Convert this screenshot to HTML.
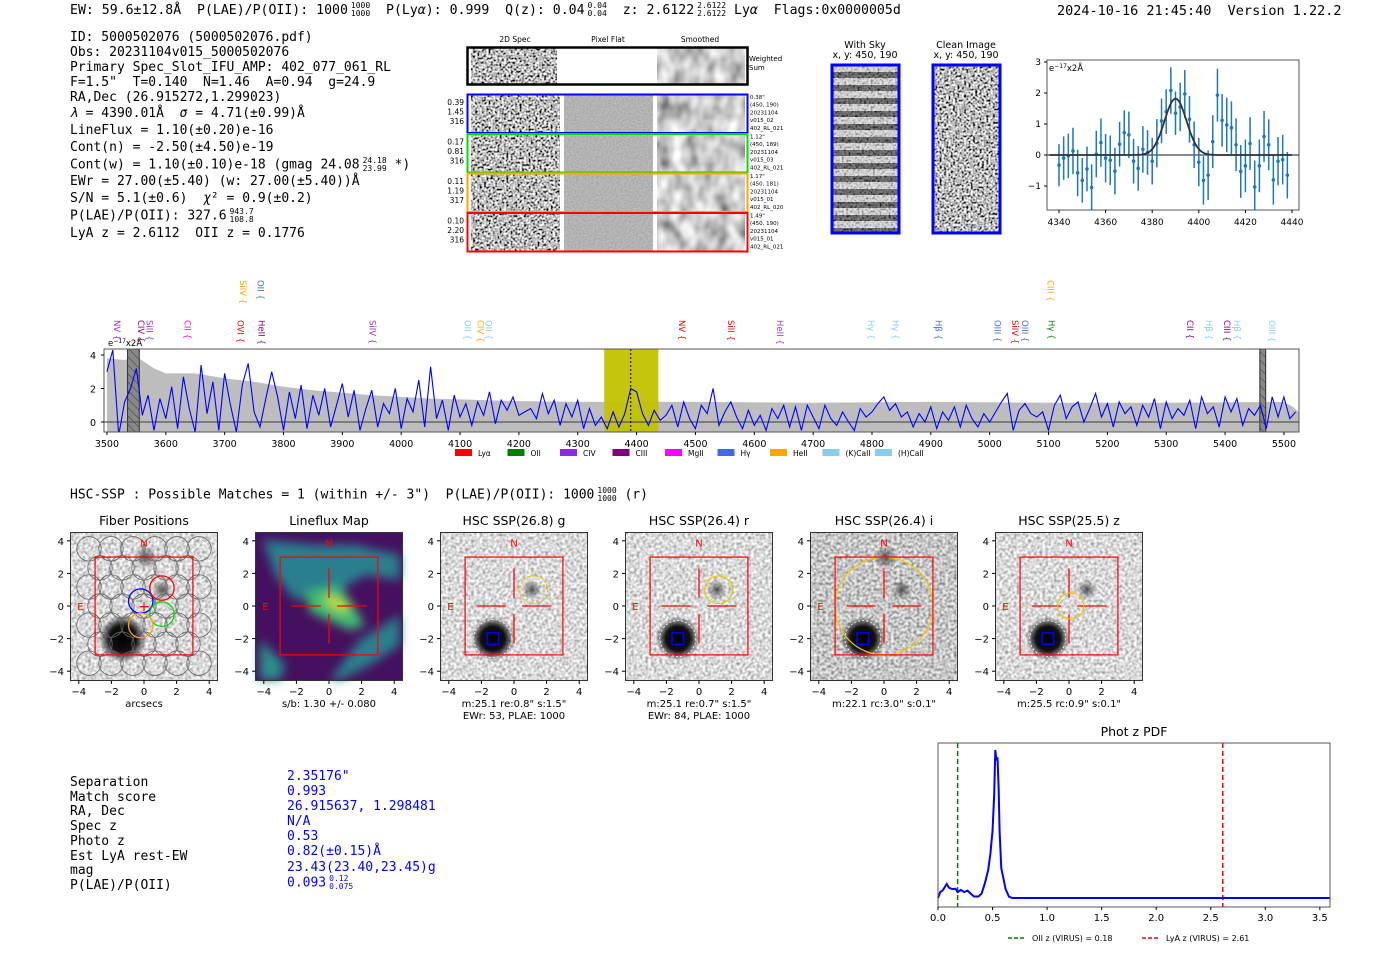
<!DOCTYPE html>
<html><head><meta charset="utf-8">
<style>
html,body{margin:0;padding:0;background:#fff;}
#root{position:relative;width:1400px;height:953px;overflow:hidden;background:#fff;}
.t{position:absolute;white-space:pre;font-family:"DejaVu Sans Mono","Liberation Mono",monospace;font-size:13px;color:#000;line-height:15px;}
.s{font-family:"DejaVu Sans","Liberation Sans",sans-serif;}
.fr{display:inline-flex;flex-direction:column;font-size:8px;line-height:8px;vertical-align:middle;margin-left:3px;}
svg text{font-family:"DejaVu Sans","Liberation Sans",sans-serif;}
</style></head><body>
<div id="root">
<svg id="g" width="1400" height="953" style="position:absolute;left:0;top:0">
<defs>
<filter id="nz" x="0" y="0" width="100%" height="100%"><feTurbulence type="fractalNoise" baseFrequency="0.45" numOctaves="1" seed="4"/><feColorMatrix type="matrix" values="2.6 0 0 0 -0.8  2.6 0 0 0 -0.8  2.6 0 0 0 -0.8  0 0 0 0 1"/></filter>
<filter id="sm" x="0" y="0" width="100%" height="100%"><feTurbulence type="fractalNoise" baseFrequency="0.07 0.05" numOctaves="2" seed="7"/><feColorMatrix type="matrix" values="1.3 0 0 0 -0.05  1.3 0 0 0 -0.05  1.3 0 0 0 -0.05  0 0 0 0 1"/></filter>
<filter id="fl" x="0" y="0" width="100%" height="100%"><feTurbulence type="fractalNoise" baseFrequency="0.6" numOctaves="1" seed="2"/><feColorMatrix type="matrix" values="0.3 0 0 0 0.3  0.3 0 0 0 0.3  0.3 0 0 0 0.3  0 0 0 0 1"/></filter>
<filter id="cb" x="0" y="0" width="100%" height="100%"><feTurbulence type="fractalNoise" baseFrequency="0.35" numOctaves="1" seed="9"/><feColorMatrix type="matrix" values="1.3 0 0 0 0.05  1.3 0 0 0 0.05  1.3 0 0 0 0.05  0 0 0 0 1"/></filter>
<filter id="cbd" x="0" y="0" width="100%" height="100%"><feTurbulence type="fractalNoise" baseFrequency="0.35" numOctaves="1" seed="11"/><feColorMatrix type="matrix" values="1.3 0 0 0 -0.08  1.3 0 0 0 -0.08  1.3 0 0 0 -0.08  0 0 0 0 1"/></filter>
<filter id="bl"><feGaussianBlur stdDeviation="5"/></filter>
<pattern id="stripes" width="68" height="13" patternUnits="userSpaceOnUse"><rect width="68" height="13" fill="#d8d8d8"/><rect y="7" width="68" height="6" fill="#3a3a3a"/></pattern>
<pattern id="hatch" width="6" height="6" patternUnits="userSpaceOnUse" patternTransform="rotate(-45)"><rect width="6" height="6" fill="#888"/><line x1="0" y1="0" x2="0" y2="6" stroke="#333" stroke-width="1"/></pattern>
<radialGradient id="blob"><stop offset="0" stop-color="#000"/><stop offset="0.55" stop-color="#111"/><stop offset="1" stop-color="#000" stop-opacity="0"/></radialGradient>
<radialGradient id="faint"><stop offset="0" stop-color="#333" stop-opacity="0.8"/><stop offset="1" stop-color="#333" stop-opacity="0"/></radialGradient>
<clipPath id="specclip"><rect x="104" y="349" width="1195" height="83"/></clipPath>
<clipPath id="upclip"><rect x="1047" y="60" width="252" height="150"/></clipPath>
</defs>
</svg>

<!-- header -->
<div class="t" style="left:70px;top:2px;font-size:13.2px">EW: 59.6±12.8Å  P(LAE)/P(OII): 1000<span class="fr"><span>1000</span><span>1000</span></span>  P(Ly<i>α</i>): 0.999  Q(z): 0.04<span class="fr"><span>0.04</span><span>0.04</span></span>  z: 2.6122<span class="fr"><span>2.6122</span><span>2.6122</span></span> Ly<i>α</i>  Flags:0x0000005d</div>
<div class="t" style="left:1057px;top:4px;font-size:13.5px">2024-10-16 21:45:40  Version 1.22.2</div>

<div class="t" style="left:70px;top:30px;line-height:15px">ID: 5000502076 (5000502076.pdf)
Obs: 20231104v015_5000502076
Primary Spec_Slot_IFU_AMP: 402_077_061_RL
F=1.5"  T=0.140  N=1.46  A=0.94  g=24.9
RA,Dec (26.915272,1.299023)</div>
<div class="t" style="left:70px;top:106px;line-height:16.95px"><i>λ</i> = 4390.01Å  <i>σ</i> = 4.71(±0.99)Å
LineFlux = 1.10(±0.20)e-16
Cont(n) = -2.50(±4.50)e-19
Cont(w) = 1.10(±0.10)e-18 (gmag 24.08<span class="fr"><span>24.18</span><span>23.99</span></span> *)
EWr = 27.00(±5.40) (w: 27.00(±5.40))Å
S/N = 5.1(±0.6)  <i>χ</i>² = 0.9(±0.2)
P(LAE)/P(OII): 327.6<span class="fr"><span>943.7</span><span>108.8</span></span>
LyA z = 2.6112  OII z = 0.1776</div>

<div class="t" style="left:70px;top:487px">HSC-SSP : Possible Matches = 1 (within +/- 3")  P(LAE)/P(OII): 1000<span class="fr"><span>1000</span><span>1000</span></span> (r)</div>

<div class="t" style="left:70px;top:776px;line-height:14.7px">Separation
Match score
RA, Dec
Spec z
Photo z
Est LyA rest-EW
mag
P(LAE)/P(OII)</div>
<div class="t" style="left:287px;top:769px;line-height:15.1px;color:#0000ff">2.35176"
0.993
26.915637, 1.298481
N/A
0.53
0.82(±0.15)Å
23.43(23.40,23.45)g
0.093<span class="fr"><span>0.12</span><span>0.075</span></span></div>
</div>

<script>
const NS='http://www.w3.org/2000/svg';
const G=document.getElementById('g');
function mk(tag,at,par){const e=document.createElementNS(NS,tag);for(const k in at)e.setAttribute(k,at[k]);(par||G).appendChild(e);return e;}
function tx(x,y,s,at,par){const e=mk('text',Object.assign({x:x,y:y},at||{}),par);e.textContent=s;return e;}

/* ===== 2D spectra panel ===== */
const rowColors=['#0000ff','#00dd00','#ffa500','#ff0000'];
const rowLeft=[['0.39','1.45','316'],['0.17','0.81','316'],['0.11','1.19','317'],['0.10','2.20','316']];
const rowRight=[['0.38"','(450, 190)','20231104','v015_02','402_RL_021'],['1.12"','(450, 189)','20231104','v015_03','402_RL_021'],['1.17"','(450, 181)','20231104','v015_01','402_RL_020'],['1.49"','(450, 190)','20231104','v015_01','402_RL_021']];
let e;
e=tx(515,42,'2D Spec',{'font-size':7.5,'text-anchor':'middle'});


e=tx(608,42,'Pixel Flat',{'font-size':7.5,'text-anchor':'middle'});


e=tx(700,42,'Smoothed',{'font-size':7.5,'text-anchor':'middle'});


e=mk('rect',{x:471,y:48,width:86,height:36,filter:'url(#nz)'});


e=mk('rect',{x:657,y:48,width:88,height:36,filter:'url(#sm)'});


e=mk('rect',{x:467.5,y:47.5,width:280,height:37,fill:'none',stroke:'#000','stroke-width':2.5});


e=tx(749,61,'Weighted',{'font-size':7});


e=tx(749,70,'Sum',{'font-size':7});


for(let i=0;i<4;i++){
  const y0=94+i*39.5;
  e=mk('rect',{x:471,y:y0+1,width:89,height:37,filter:'url(#nz)'});
  
  
  e=mk('rect',{x:564,y:y0+1,width:89,height:37,filter:'url(#fl)'});
  
  
  e=mk('rect',{x:657,y:y0+1,width:88,height:37,filter:'url(#sm)'});
  
  
  e=mk('rect',{x:467.5,y:y0+0.5,width:280,height:38.5,fill:'none',stroke:rowColors[i],'stroke-width':2});
  
  
  for(let k=0;k<3;k++){
    e=tx(464,y0+11+k*9.5,rowLeft[i][k],{'font-size':7.5,'text-anchor':'end'});
    
    
  }
  for(let k=0;k<5;k++){
    e=tx(750,y0+5+k*7.7,rowRight[i][k],{'font-size':5.5});
    
    
  }
}

/* ===== sky / clean images ===== */
e=tx(865,48,'With Sky',{'font-size':9.5,'text-anchor':'middle'});


e=tx(865,58,'x, y: 450, 190',{'font-size':9.5,'text-anchor':'middle'});


e=mk('rect',{x:832,y:65,width:67,height:168,fill:'url(#stripes)'});


mk('rect',{x:832,y:65,width:67,height:168,filter:'url(#nz)',opacity:0.35});
e=mk('rect',{x:832,y:65,width:67,height:168,fill:'none',stroke:'#0000ff','stroke-width':3});


e=tx(966,48,'Clean Image',{'font-size':9.5,'text-anchor':'middle'});


e=tx(966,58,'x, y: 450, 190',{'font-size':9.5,'text-anchor':'middle'});


e=mk('rect',{x:933,y:65,width:67,height:168,filter:'url(#nz)'});


e=mk('rect',{x:933,y:65,width:67,height:168,fill:'none',stroke:'#0000ff','stroke-width':3});


</script>

<script>
/* ===== zoomed line fit plot ===== */
const fitWave=[4340,4342,4344,4346,4348,4350,4352,4354,4356,4358,4360,4362,4364,4366,4368,4370,4372,4374,4376,4378,4380,4382,4384,4386,4388,4390,4392,4394,4396,4398,4400,4402,4404,4406,4408,4410,4412,4414,4416,4418,4420,4422,4424,4426,4428,4430,4432,4434,4436,4438];
const fitFlux=[-0.33,-0.1,-0.03,0.13,-0.58,-0.82,-0.45,-1.05,0.03,0.4,-0.1,-0.17,-0.52,0.35,0.72,0.65,-0.2,-0.43,0.18,0.08,-0.2,0.38,1.1,1.4,2.08,1.35,1.55,1.97,1.15,0.33,-0.23,-0.82,-0.65,0.43,1.93,1.12,0.97,0.88,0.33,-0.53,-0.35,0.37,-1.03,-0.35,0.6,0.33,-0.8,-0.2,-0.15,-0.65];
const fitErr=[0.68,0.7,0.72,0.75,0.75,0.72,0.72,0.75,0.75,0.78,0.78,0.8,0.75,0.72,0.72,0.75,0.72,0.72,0.75,0.72,0.75,0.78,0.72,0.72,0.75,0.7,0.78,0.77,0.75,0.75,0.78,0.78,0.8,0.85,0.85,0.85,0.88,0.85,0.85,0.85,0.85,0.85,0.85,0.85,0.82,0.82,0.8,0.78,0.8,0.75];
const fitTicksX=[4340,4360,4380,4400,4420,4440];
const fitTicksY=[-1,0,1,2,3];
const gaussAmp=1.82, gaussMu=4390.01, gaussSigma=4.71;
(function(){
  const ux=w=>1059+(w-4340)*2.33, uy=v=>155-v*31;
  let e;
  const grp=mk('g',{'clip-path':'url(#upclip)'});
  
  e=mk('line',{x1:1047,x2:1299,y1:uy(0),y2:uy(0),stroke:'#444','stroke-width':1.2},grp);
  
  
  for(let i=0;i<fitWave.length;i++){
    const x=ux(fitWave[i]);
    e=mk('line',{x1:x,x2:x,y1:uy(fitFlux[i]-fitErr[i]),y2:uy(fitFlux[i]+fitErr[i]),stroke:'#1f77b4','stroke-width':1.5},grp);
    
    
    e=mk('circle',{cx:x,cy:uy(fitFlux[i]),r:1.8,fill:'#1f77b4'},grp);
    
    
  }
  let d='';
  for(let w=4336;w<=4440;w+=0.5){const v=gaussAmp*Math.exp(-0.5*Math.pow((w-gaussMu)/gaussSigma,2));d+=(d?'L':'M')+ux(w).toFixed(1)+','+uy(v).toFixed(1);}
  e=mk('path',{d:d,fill:'none',stroke:'#333','stroke-width':1.8},grp);
  
  
  e=mk('rect',{x:1047,y:60,width:252,height:150,fill:'none',stroke:'#555','stroke-width':1});
  
  
  fitTicksX.forEach(t=>{mk('line',{x1:ux(t),x2:ux(t),y1:210,y2:213,stroke:'#000'});
    e=tx(ux(t),225,String(t),{'font-size':9,'text-anchor':'middle'});
    
    });
  fitTicksY.forEach(t=>{mk('line',{x1:1044,x2:1047,y1:uy(t),y2:uy(t),stroke:'#000'});
    e=tx(1041,uy(t)+3,t<0?'−'+(-t):String(t),{'font-size':9,'text-anchor':'end'});
    
    });
  e=tx(1049,71,'e',{'font-size':8.5});
  
  
  e.innerHTML='e<tspan dy="-3" font-size="6">−17</tspan><tspan dy="3">x2Å</tspan>';
})();
</script>

<script>
/* ===== full spectrum ===== */
const specStart=3500, specStep=10;
const specFlux=[3.0,4.3,-0.8,1.2,2.0,3.2,0.4,1.6,-0.5,1.4,0.2,2.1,-0.4,2.7,0.8,-0.6,3.4,0.5,2.4,-0.5,2.9,1.0,-0.6,2.2,3.5,0.6,-0.3,1.4,3.0,1.5,-0.5,1.8,0.2,2.2,-0.4,1.6,0.4,2.0,-0.3,1.0,2.3,0.3,1.9,-0.5,0.8,1.9,-0.3,1.1,0.5,2.0,-0.4,1.4,0.6,2.5,-0.3,3.3,0.2,1.3,-0.5,1.6,0.3,1.1,-0.2,1.2,0.4,1.8,-0.1,1.3,0.7,1.5,0.4,0.6,0.8,0.2,1.7,0.5,1.3,-0.2,1.1,0.3,1.3,-0.4,0.8,-0.2,0.3,-0.4,0.6,-0.3,0.5,2.0,1.8,0.5,-0.2,0.7,0.1,0.4,1.0,-0.3,1.2,0.2,-0.4,1.0,0.5,2.0,-0.2,0.6,1.2,0.3,-0.4,0.7,-0.2,0.4,-0.5,0.8,0.2,1.0,-0.3,0.9,-0.5,1.0,0.3,-0.4,1.0,0.2,-0.2,0.6,0.0,-0.5,0.8,0.3,0.6,1.1,1.5,0.7,1.1,0.3,0.6,-0.3,0.5,0.0,0.9,-0.4,0.6,0.1,0.9,-0.3,1.0,0.2,-0.3,0.5,0.0,0.6,1.2,1.7,-0.5,0.7,1.1,0.5,0.3,0.6,-0.5,1.0,1.6,0.2,0.9,1.2,0.0,0.8,1.7,0.3,1.1,-0.3,1.2,0.5,0.9,-0.2,1.0,0.3,1.4,-0.4,1.2,0.2,0.8,0.4,1.3,-0.4,1.5,0.5,0.9,-0.3,1.5,0.6,1.4,-0.2,0.8,0.4,1.0,-0.4,1.5,0.3,1.5,0.2,0.6];
const errWave=[3500,3530,3550,3580,3600,3650,3700,3750,3800,3850,3900,3950,4000,4050,4100,4200,4300,4400,4500,4700,4900,5100,5300,5500,5515,5525];
const errVal=[3.8,3.7,3.9,3.2,2.9,2.9,2.6,2.4,2.1,1.9,1.75,1.6,1.5,1.4,1.35,1.25,1.2,1.2,1.2,1.15,1.2,1.15,1.15,1.2,0.9,0.6];
const specTicks=[3500,3600,3700,3800,3900,4000,4100,4200,4300,4400,4500,4600,4700,4800,4900,5000,5100,5200,5300,5400,5500];
const specYTicks=[0,2,4];
const lineLabels=[['NV',3517,'#9932cc',0],['CIV',3558,'#800080',0],['SiII',3572,'#9932cc',0],['CII',3637,'#ff00ff',0],['OVI',3727,'#ff0000',0],['HeII',3763,'#800080',0],['SiIV',3951,'#9932cc',0],['OII',4113,'#87ceeb',0],['CIV',4135,'#ffa500',0],['OII',4148,'#87ceeb',0],['NV',4477,'#ff0000',0],['SiII',4560,'#ff0000',0],['HeII',4644,'#9932cc',0],['Hγ',4798,'#87ceeb',0],['Hγ',4840,'#87ceeb',0],['Hβ',4913,'#4169e1',0],['OIII',5013,'#4169e1',0],['SiIV',5043,'#ff0000',0],['OIII',5060,'#4169e1',0],['Hγ',5105,'#008000',0],['CII',5340,'#800080',0],['Hβ',5373,'#87ceeb',0],['CIII',5403,'#800080',0],['Hβ',5420,'#87ceeb',0],['OIII',5480,'#87ceeb',0],['SiIV',3731,'#ffa500',1],['OII',3761,'#4169e1',1],['CIII',5103,'#ffa500',1]];
const legendNames=['Lyα','OII','CIV','CIII','MgII','Hγ','HeII','(K)CaII','(H)CaII'];
const legendColors=['#ff0000','#008000','#8a2be2','#800080','#ff00ff','#4169e1','#ffa500','#87ceeb','#87ceeb'];
const lineWave=4390.01, bandLo=4345, bandHi=4437;
(function(){
  const sx=w=>104+(w-3495)*0.5885, sy=v=>422-v*16.75;
  let e;
  const cg=mk('g',{'clip-path':'url(#specclip)'});
  
  let d='M'+sx(errWave[0])+','+432;
  errWave.forEach((w,i)=>{d+='L'+sx(w).toFixed(1)+','+sy(errVal[i]).toFixed(1);});
  d+='L'+sx(errWave[errWave.length-1])+',432Z';
  e=mk('path',{d:d,fill:'#bdbdbd'},cg);
  
  
  e=mk('rect',{x:sx(bandLo),y:349,width:sx(bandHi)-sx(bandLo),height:83,fill:'#c2c200',opacity:0.95},cg);
  
  
  e=mk('rect',{x:sx(3535),y:349,width:sx(3555)-sx(3535),height:83,fill:'url(#hatch)',stroke:'#333'},cg);
  
  
  e=mk('rect',{x:sx(5459),y:349,width:sx(5469)-sx(5459),height:83,fill:'url(#hatch)',stroke:'#333'},cg);
  
  
  e=mk('line',{x1:104,x2:1299,y1:sy(0),y2:sy(0),stroke:'#555','stroke-width':1.2},cg);
  
  
  d='';
  specFlux.forEach((v,i)=>{d+=(i?'L':'M')+sx(specStart+i*specStep).toFixed(1)+','+sy(v).toFixed(1);});
  e=mk('path',{d:d,fill:'none',stroke:'#0000ff','stroke-width':1.1},cg);
  
  
  e=mk('line',{x1:sx(lineWave),x2:sx(lineWave),y1:349,y2:432,stroke:'#000','stroke-dasharray':'2,2'},cg);
  
  
  e=mk('rect',{x:104,y:349,width:1195,height:83,fill:'none',stroke:'#555','stroke-width':1});
  
  
  specTicks.forEach(t=>{mk('line',{x1:sx(t),x2:sx(t),y1:432,y2:435,stroke:'#000'});
    e=tx(sx(t),447,String(t),{'font-size':9.5,'text-anchor':'middle'});
    
    });
  specYTicks.forEach(t=>{mk('line',{x1:101,x2:104,y1:sy(t),y2:sy(t),stroke:'#000'});
    e=tx(96,sy(t)+4,String(t),{'font-size':9.5,'text-anchor':'end'});
    
    });
  e=tx(108,346,'',{'font-size':8.5});
  e.innerHTML='e<tspan dy="-3" font-size="6">−17</tspan><tspan dy="3">x2Å</tspan>';
  
  
  lineLabels.forEach(L=>{
    const x=sx(L[1])-3, y=L[3]?280:320;
    e=tx(x,y,L[0]+' {',{'font-size':8.5,fill:L[2],transform:'rotate(90 '+x+' '+y+')'});
    
    
  });
  legendNames.forEach((n,i)=>{
    const x=455+i*52.5;
    e=mk('rect',{x:x,y:449,width:17,height:7,fill:legendColors[i]});
    
    
    e=tx(x+23,456,n,{'font-size':7.5});
    
    
  });
})();
</script>

<script>
/* ===== cutouts ===== */
const cutTitles=['Fiber Positions','Lineflux Map','HSC SSP(26.8) g','HSC SSP(26.4) r','HSC SSP(26.4) i','HSC SSP(25.5) z'];
const cutSub1=['arcsecs','s/b: 1.30 +/- 0.080','m:25.1  re:0.8"  s:1.5"','m:25.1  re:0.7"  s:1.5"','m:22.1 rc:3.0"  s:0.1"','m:25.5 rc:0.9"  s:0.1"'];
const cutSub2=['','','EWr: 53, PLAE: 1000','EWr: 84, PLAE: 1000','',''];
const cutTicks=[-4,-2,0,2,4];
const fiberX=[-0.2,1.1,1.1,-0.2];
const fiberY=[0.3,1.1,-0.5,-1.2];
const fiberCol=['#0000ff','#ff0000','#00dd00','#ffa500'];
const apX=[0,0,1.2,1.2,0,0.1], apY=[0,0,1.0,1.0,0,0], apR=[0,0,0.85,0.85,3.0,0.8];
(function(){
  let e;
  for(let p=0;p<6;p++){
    const ox=70+185*p;
    const cx=u=>ox+74+u*16.3, cy=u=>606-u*16.3;
    const grp=mk('g',{});
    
    
    if(p===1){
      e=mk('rect',{x:ox+1,y:533,width:146,height:147,fill:'#45105f'},grp);
      
      
      const bg=mk('g',{filter:'url(#bl)'},grp);
      mk('path',{d:`M${ox+8},${540} L${ox+60},${545} L${ox+100},${545} L${ox+145},${555} L${ox+145},${580} L${ox+110},${575} L${ox+85},${590} L${ox+40},${600} L${ox+20},${575}Z`,fill:'#2a7f8e'},bg);
      mk('path',{d:`M${ox+50},${592} L${ox+85},${585} L${ox+110},${625} L${ox+95},${630} L${ox+55},${612}Z`,fill:'#3fbc73'},bg);
      mk('ellipse',{cx:ox+82,cy:604,rx:14,ry:5,fill:'#c8e020',transform:`rotate(25 ${ox+82} 604)`},bg);
      mk('path',{d:`M${ox+105},${640} L${ox+145},${615} L${ox+145},${645} L${ox+115},${665} L${ox+85},${680} L${ox+75},${680}Z`,fill:'#2a7f8e'},bg);
      mk('path',{d:`M${ox+5},${640} L${ox+30},${665} L${ox+25},${680} L${ox+5},${680}Z`,fill:'#2a8f8a'},bg);
    } else {
      e=mk('rect',{x:ox+1,y:533,width:146,height:147,filter:p===4?'url(#cbd)':'url(#cb)'},grp);
      
      
      e=mk('circle',{cx:cx(-1.3),cy:cy(-2),r:p===0?24:22,fill:'url(#blob)'},grp);
      
      
      mk('circle',{cx:cx(1.1),cy:cy(1.0),r:10,fill:'url(#faint)'},grp);
      if(p===0||p===4) mk('circle',{cx:cx(0.1),cy:cy(3),r:12,fill:'url(#faint)'},grp);
    }
    e=mk('rect',{x:ox+0.5,y:532.5,width:147,height:148,fill:'none',stroke:'#333'},grp);
    
    
    if(p===0){
      for(let r=-3;r<=3;r++){for(let c=-3;c<=3;c++){
        const fx=c*1.35+(r%2?0.675:0), fy=r*1.17;
        if(Math.abs(fx)<3.6&&Math.abs(fy)<3.7){
          e=mk('circle',{cx:cx(fx),cy:cy(fy),r:12.2,fill:'none',stroke:'#666','stroke-width':0.8},grp);
          
          
        }}}
      for(let i=0;i<4;i++){
        e=mk('circle',{cx:cx(fiberX[i]),cy:cy(fiberY[i]),r:12.2,fill:'none',stroke:fiberCol[i],'stroke-width':1.3},grp);
        
        
      }
      e=tx(cx(0),cy(0)+5,'+',{'font-size':14,fill:'#ff0000','text-anchor':'middle'},grp);
      
      
    } else {
      const segs=[[-2.3,0,-0.5,0],[0.5,0,2.3,0],[0,2.3,0,0.5],[0,-0.5,0,-2.3]];
      segs.forEach(s=>{e=mk('line',{x1:cx(s[0]),y1:cy(s[1]),x2:cx(s[2]),y2:cy(s[3]),stroke:'#ff0000','stroke-width':1.3},grp);
        
        });
    }
    if(p>=2){
      e=mk('circle',{cx:cx(-1.3),cy:cy(-2),r:p===2?19:18,fill:'none',stroke:'#fff','stroke-dasharray':'2,2','stroke-width':0.8},grp);
      
      
      e=mk('rect',{x:cx(-1.65),y:cy(-1.65),width:11.5,height:11.5,fill:'none',stroke:'#0000ff','stroke-width':1.5},grp);
      
      
      if(p===4){
        e=mk('circle',{cx:cx(0.1),cy:cy(3),r:13,fill:'none',stroke:'#fff','stroke-dasharray':'2,2','stroke-width':0.8},grp);
        
        
      }
      e=mk('circle',{cx:cx(apX[p]),cy:cy(apY[p]),r:apR[p]*16.3,fill:'none',stroke:'#f0c800','stroke-width':1.2,'stroke-dasharray':p===2?'3,1.5':'none'},grp);
      
      
    }
    e=mk('rect',{x:cx(-3),y:cy(3),width:6*16.3,height:6*16.3,fill:'none',stroke:'#ff0000','stroke-width':1.2},grp);
    
    
    e=tx(cx(0),cy(3.65),'N',{'font-size':10,fill:'#ff0000','text-anchor':'middle'},grp);
    
    
    e=tx(cx(-3.9),cy(0)+4,'E',{'font-size':10,fill:'#ff0000','text-anchor':'middle'},grp);
    
    
    e=tx(ox+74,525,cutTitles[p],{'font-size':12.5,'text-anchor':'middle'},grp);
    
    
    cutTicks.forEach(t=>{
      mk('line',{x1:cx(t),x2:cx(t),y1:680.5,y2:684,stroke:'#000'},grp);
      e=tx(cx(t),695,t<0?'−'+(-t):String(t),{'font-size':10,'text-anchor':'middle'},grp);
      
      
      mk('line',{x1:ox-3,x2:ox+0.5,y1:cy(t),y2:cy(t),stroke:'#000'},grp);
      e=tx(ox-6,cy(t)+4,t<0?'−'+(-t):String(t),{'font-size':10,'text-anchor':'end'},grp);
      
      
    });
    e=tx(ox+74,707,cutSub1[p],{'font-size':10,'text-anchor':'middle'},grp);
    
    
    if(cutSub2[p]){
      e=tx(ox+74,719,cutSub2[p],{'font-size':10,'text-anchor':'middle'},grp);
      
      
    }
  }
})();
</script>

<script>
/* ===== photo-z PDF ===== */
const pdfZ=[0,0.02,0.04,0.06,0.08,0.1,0.13,0.16,0.18,0.21,0.24,0.27,0.3,0.33,0.37,0.4,0.43,0.46,0.48,0.5,0.515,0.525,0.535,0.545,0.555,0.565,0.58,0.6,0.62,0.65,0.68,1.0,2.0,3.6];
const pdfP=[0.0,0.04,0.05,0.07,0.095,0.07,0.06,0.063,0.04,0.055,0.04,0.05,0.03,0.01,0.01,0.03,0.1,0.19,0.3,0.45,0.7,1.0,0.93,0.95,0.75,0.45,0.2,0.13,0.06,0.01,0.0,0.0,0.0,0.0];
const pdfTicks=[0,0.5,1,1.5,2,2.5,3,3.5];
const oiiZ=0.18, lyaZ=2.61;
(function(){
  const px=z=>938+z*109.1, py=v=>898-v*148;
  let e;
  e=tx(1134,736,'Phot z PDF',{'font-size':12.5,'text-anchor':'middle'});
  
  
  e=mk('line',{x1:px(oiiZ),x2:px(oiiZ),y1:743,y2:907,stroke:'#008000','stroke-width':1.5,'stroke-dasharray':'5,3'});
  
  
  e=mk('line',{x1:px(lyaZ),x2:px(lyaZ),y1:743,y2:907,stroke:'#ff0000','stroke-width':1.5,'stroke-dasharray':'5,3'});
  
  
  let d='';
  pdfZ.forEach((z,i)=>{d+=(i?'L':'M')+px(Math.min(z,3.59)).toFixed(1)+','+py(pdfP[i]).toFixed(1);});
  e=mk('path',{d:d,fill:'none',stroke:'#0000ff','stroke-width':2});
  
  
  e=mk('rect',{x:938,y:743,width:392,height:164,fill:'none',stroke:'#555'});
  
  
  pdfTicks.forEach(t=>{mk('line',{x1:px(t),x2:px(t),y1:907,y2:910,stroke:'#000'});
    e=tx(px(t),921,t.toFixed(1),{'font-size':10,'text-anchor':'middle'});
    
    });
  e=mk('line',{x1:1008,x2:1026,y1:938,y2:938,stroke:'#008000','stroke-width':1.5,'stroke-dasharray':'4,2'});
  
  
  e=tx(1032,941,'OII z (VIRUS) = 0.18',{'font-size':8});
  
  
  e=mk('line',{x1:1142,x2:1160,y1:938,y2:938,stroke:'#ff0000','stroke-width':1.5,'stroke-dasharray':'4,2'});
  
  
  e=tx(1166,941,'LyA z (VIRUS) = 2.61',{'font-size':8});
  
  
})();
</script>
</body></html>
